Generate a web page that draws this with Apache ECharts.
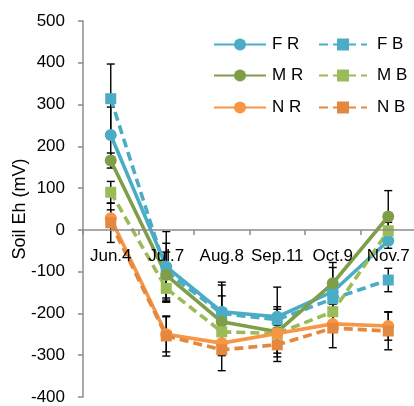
<!DOCTYPE html>
<html><head><meta charset="utf-8">
<script src="https://cdn.jsdelivr.net/npm/echarts@6/dist/echarts.min.js"></script>
<style>html,body{margin:0;padding:0;background:#fff}#c{width:414px;height:406px}</style>
</head><body><div id="c"></div>
<script>
var categories = ['Jun.4','Jul.7','Aug.8','Sep.11','Oct.9','Nov.7'];
var yTicks = [-400,-300,-200,-100,0,100,200,300,400,500];
var FR = [227, -88, -196, -208, -148, -26];
var FB = [314, -100, -200, -215, -165, -120];
var MR = [166, -108, -220, -244, -128, 32];
var MB = [90, -140, -244, -248, -196, -2];
var NR = [28, -250, -271, -248, -225, -230];
var NB = [17, -254, -287, -275, -235, -242];
var FR_err = [67, 84, 71, 71, 58, 18];
var FB_err = [83, 68, 68, 25, 30, 28];
var MR_err = [18, 55, 62, 60, 50, 62];
var MB_err = [26, 33, 30, 20, 25, 20];
var NR_err = [20, 42, 30, 47, 20, 34];
var NB_err = [47, 48, 50, 40, 47, 45];

var defs = [
  {name:'F R', data:FR, err:FR_err, color:'#4BACC6', dash:false, sym:'circle'},
  {name:'F B', data:FB, err:FB_err, color:'#4BACC6', dash:true, sym:'rect'},
  {name:'M R', data:MR, err:MR_err, color:'#7E9E47', dash:false, sym:'circle'},
  {name:'M B', data:MB, err:MB_err, color:'#9BBB59', dash:true, sym:'rect'},
  {name:'N R', data:NR, err:NR_err, color:'#F79646', dash:false, sym:'circle'},
  {name:'N B', data:NB, err:NB_err, color:'#E4873F', dash:true, sym:'rect'}
];
var FONT = 'Liberation Sans';
var FS = 17;
var chart = echarts.init(document.getElementById('c'), null, {renderer:'canvas'});
var series = [];
defs.forEach(function(d){
  var errData = d.data.map(function(v,i){ return [i, v - d.err[i], v + d.err[i]]; });
  series.push({
    type:'custom', name:d.name+' err', z:1, silent:true,
    data: errData,
    encode:{x:0, y:[1,2]},
    renderItem:function(params, api){
      var x = api.value(0);
      var lo = api.coord([x, api.value(1)]);
      var hi = api.coord([x, api.value(2)]);
      var cw = 4;
      var st = {stroke:'#000', lineWidth:1.4};
      return {type:'group', children:[
        {type:'line', shape:{x1:lo[0],y1:lo[1],x2:hi[0],y2:hi[1]}, style:st},
        {type:'line', shape:{x1:lo[0]-cw,y1:lo[1],x2:lo[0]+cw,y2:lo[1]}, style:st},
        {type:'line', shape:{x1:hi[0]-cw,y1:hi[1],x2:hi[0]+cw,y2:hi[1]}, style:st}
      ]};
    }
  });
});
defs.forEach(function(d){
  series.push({
    type:'line', name:d.name, data:d.data, z:3,
    symbol:d.sym, symbolSize: d.sym==='rect'?11:12,
    showAllSymbol:true,
    itemStyle:{color:d.color},
    lineStyle:{color:d.color, width:3.6, type: d.dash?[9,5]:'solid'}
  });
});
var legPos = [[213,36],[318,36],[213,67],[318,67],[213,99],[318,99]];
var legends = defs.map(function(d,i){
  return {
    data:[d.name], left:legPos[i][0], top:legPos[i][1], padding:0,
    itemWidth: i%2===0?52:48, itemHeight:15,
    textStyle:{fontFamily:FONT, fontSize:FS, color:'#000', padding:[0,0,0,i%2===0?1:5]}
  };
});
chart.setOption({
  animation:false,
  backgroundColor:'#fff',
  legend: legends,
  grid:{left:83, right:-2, top:21, bottom:9, containLabel:false, outerBoundsMode:'none'},
  xAxis:{
    type:'category', data:categories, boundaryGap:true, z:5, position:'bottom',
    axisLine:{onZero:false, lineStyle:{color:'#8C8C8C', width:1.5}},
    axisTick:{show:true, alignWithLabel:false, length:5, lineStyle:{color:'#8C8C8C', width:1.5}},
    axisLabel:{fontFamily:FONT, fontSize:FS, color:'#000', margin:18, interval:0}
  },
  yAxis:{
    type:'value', min:-400, max:500, interval:100,
    name:'Soil Eh (mV)', nameLocation:'middle', nameGap:54, nameRotate:90, nameMoveOverlap:false,
    nameTextStyle:{fontFamily:FONT, fontSize:18, color:'#000'},
    axisLine:{show:true, onZero:false, lineStyle:{color:'#8C8C8C', width:1.5}},
    axisTick:{show:true, length:5, lineStyle:{color:'#8C8C8C', width:1.5}},
    axisLabel:{fontFamily:FONT, fontSize:FS, color:'#000', margin:18,
      formatter:function(v){ return yTicks.indexOf(v)>=0 ? String(v) : ''; }},
    splitLine:{show:false}
  },
  series: series
});
var zeroY = chart.convertToPixel({yAxisIndex:0}, 0);
var botY = chart.convertToPixel({yAxisIndex:0}, yTicks[0]);
chart.setOption({xAxis:{offset: -(botY - zeroY)}});
</script></body></html>
